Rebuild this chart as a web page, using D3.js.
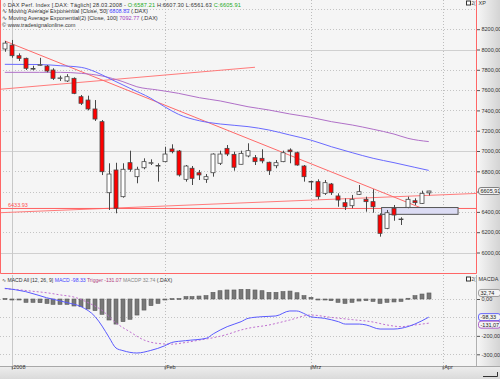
<!DOCTYPE html>
<html><head><meta charset="utf-8">
<script src="https://cdn.jsdelivr.net/npm/d3@7/dist/d3.min.js"></script>
<style>
body{margin:0;background:#fff}
svg{display:block}
text{font-family:"Liberation Sans",Arial,sans-serif}
</style>
</head><body>
<svg id="c" width="500" height="379"></svg>
<script>
// ---------- DATA ----------
const holidays = ["2007-12-31","2008-01-01","2008-03-21","2008-03-24"];
const startDay = "2007-12-28", endDay = "2008-04-08";

const opens  = [8005,8044,7939,7913,7808,7845,7837,7798,7716,7690,7716,7535,7502,7414,7289,6589,6813,6550,6885,6747,6835,6880,6852,6895,7020,7000,6721,6830,6786,6721,6786,6879,7026,6967,6869,6951,6934,6928,6889,6855,6895,7010,6983,6852,6698,6698,6583,6675,6557,6491,6461,6573,6524,6501,6369,6238,6436,6330,6445,6510,6484,6587.21];
const highs  = [8084,8094,7962,7920,7840,7918,7847,7815,7742,7757,7725,7552,7545,7502,7305,6879,6884,6879,7003,6845,6928,6918,6879,7042,7066,7010,6862,6852,6813,6773,6977,7003,7059,6993,7003,7076,6960,7017,6895,6911,7003,7026,6993,6862,6705,6721,6714,6685,6583,6534,6567,6665,6550,6623,6386,6419,6468,6347,6550,6534,6609,6607.30];
const lows   = [7978,7919,7887,7798,7795,7840,7775,7700,7690,7680,7560,7453,7400,7296,6763,6419,6386,6540,6796,6682,6820,6862,6698,6890,6977,6748,6698,6665,6714,6686,6747,6862,6950,6806,6869,6938,6862,6879,6764,6830,6890,6879,6855,6698,6615,6524,6567,6567,6451,6419,6436,6567,6402,6392,6156,6230,6313,6271,6436,6468,6478,6561.63];
const closes = [8063,7939,7913,7815,7812,7850,7788,7716,7720,7732,7568,7470,7414,7315,6796,6773,6436,6820,6820,6820,6895,6885,6857,6970,6993,6764,6852,6731,6764,6747,6970,6970,6970,6840,6977,7003,6895,6902,6806,6885,6983,6993,6862,6747,6700,6550,6688,6589,6517,6451,6524,6599,6501,6451,6189,6392,6369,6330,6524,6491,6583,6605.91];

// EMA readings: [trading-day index, value]
const ema50  = [[0,7854],[5,7852],[8,7840],[11,7824],[13,7781],[15,7716],[18,7618],[21,7520],[23,7436],[25,7361],[28,7298],[31,7266],[35,7240],[38,7207],[41,7158],[44,7108],[47,7042],[50,6983],[53,6928],[56,6885],[59,6839],[61,6808.83]];
const ema100 = [[0,7775],[5,7775],[8,7775],[11,7765],[14,7739],[17,7683],[19,7633],[22,7601],[25,7568],[28,7525],[31,7493],[35,7436],[38,7404],[41,7365],[44,7332],[47,7289],[50,7256],[53,7214],[56,7167],[58,7125],[61,7092.77]];

// MACD readings
const macdLine = [[0,58],[3,40],[6,7],[9,-20],[11,-42],[13,-96],[14,-147],[15,-208],[16,-266],[17,-280],[19,-293],[21,-279],[23,-254],[24,-236],[26,-226],[29,-213],[30,-189],[32,-150],[34,-123],[35,-105],[37,-96],[39,-92],[41,-65],[42,-65],[43,-78],[44,-96],[46,-105],[48,-123],[49,-136],[51,-136],[52,-141],[54,-163],[56,-163],[57,-159],[59,-136],[61,-98.33]];
const triggerLine = [[0,56],[2,50],[4,42],[6,34],[8,22],[10,10],[12,-20],[14,-62],[16,-130],[18,-178],[20,-222],[22,-241],[24,-245],[26,-236],[28,-223],[30,-210],[32,-192],[34,-168],[35,-159],[38,-141],[41,-114],[44,-87],[47,-100],[50,-112],[53,-125],[55,-141],[57,-150],[59,-141],[61,-131.07]];
const macdHist = [3,-2,-1,-18,-18,-20,-24,-29,-29,-29,-38,-42,-54,-63,-83,-114,-136,-123,-110,-87,-60,-36,-24,-3,2,3,13,13,16,18,36,45,49,49,52,52,49,45,36,36,40,43,34,18,9,-2,-5,-9,-18,-24,-18,-11,-9,-13,-24,-18,-16,-13,4,18,27,32.74];

// drawn objects
const trendDown = [["2007-12-28",8084],["2008-03-28",6409]];
const trendUpper = [["2007-12-28",7612],["2008-02-20",7825]];
const trendLower = [["2007-12-28",6394],["2008-03-28",6563]];
const levelValue = 6433.93;
const zoneBox = {from:"2008-03-17", to:"2008-04-03", low:6376, high:6443};

const yTicks = [6000,6200,6400,6600,6800,7000,7200,7400,7600,7800,8000,8200];
const yGridExtra = [8400];
const yMajor = [6000,7000,8000];
const macdTicks = [0,-200,-300];
const macdGrid = [0,-100,-200,-300];
const monthTicks = [["2008-01-02","2008"],["2008-02-01","Feb"],["2008-03-03","Mrz"],["2008-04-01","Apr"]];

// ---------- BUILD ----------
const fmtD = d3.timeFormat("%Y-%m-%d"), parseD = d3.timeParse("%Y-%m-%d");
const dates = [];
for (let d = parseD(startDay); d <= parseD(endDay); d = d3.timeDay.offset(d,1)) {
  const wd = d.getDay(), s = fmtD(d);
  if (wd>0 && wd<6 && !holidays.includes(s)) dates.push(s);
}
const bars = closes.map((c,i)=>({date:dates[i],o:opens[i],h:highs[i],l:lows[i],c:c,hist:macdHist[i]}));

const svg = d3.select("#c");
const PR = 476, MT = 0, MB = 274, ST = 275, SB = 366;
const x = d3.scalePoint().domain(dates).range([4.8, 4.8 + 6.95*(dates.length-1)]);
const y = d3.scaleLinear().domain([6000,8000]).range([252.5,49.5]);
const ym = d3.scaleLinear().domain([-300,0]).range([354.3,299]);

const defs = svg.append("defs");
const g1 = defs.append("linearGradient").attr("id","axg").attr("x1","0").attr("x2","1");
g1.append("stop").attr("offset","0").attr("stop-color","#f6f6f6");
g1.append("stop").attr("offset","1").attr("stop-color","#d4d4d4");
const g2 = defs.append("linearGradient").attr("id","xg").attr("x1","0").attr("x2","0").attr("y1","0").attr("y2","1");
g2.append("stop").attr("offset","0").attr("stop-color","#eeeeee");
g2.append("stop").attr("offset","1").attr("stop-color","#dadada");
defs.append("clipPath").attr("id","cm").append("rect").attr("x",0).attr("y",MT).attr("width",PR).attr("height",MB-MT);
defs.append("clipPath").attr("id","cs").append("rect").attr("x",0).attr("y",ST).attr("width",PR).attr("height",SB-ST);

// backgrounds
svg.append("rect").attr("width",500).attr("height",379).attr("fill","#f5f5f5");
svg.append("rect").attr("x",PR+1).attr("y",0).attr("width",500-PR-1).attr("height",SB).attr("fill","url(#axg)");
svg.append("rect").attr("x",0).attr("y",SB).attr("width",500).attr("height",379-SB).attr("fill","url(#xg)");
svg.append("line").attr("x1",0).attr("x2",500).attr("y1",SB+0.5).attr("y2",SB+0.5).attr("stroke","#a8a8a8");

// ---------- MAIN PANEL ----------
const main = svg.append("g").attr("clip-path","url(#cm)");
main.selectAll(".hg").data(yTicks.concat(yGridExtra)).enter().append("line")
  .attr("x1",0).attr("x2",PR).attr("y1",d=>Math.round(y(d))+0.5).attr("y2",d=>Math.round(y(d))+0.5)
  .attr("stroke",d=>yMajor.includes(d)?"#d0d0d0":"#c4c4c4")
  .attr("stroke-dasharray",d=>yMajor.includes(d)?null:"1,2");
function vgrid(g,top,bot){
  g.selectAll(null).data(monthTicks).enter().append("line")
    .attr("x1",d=>Math.round(x(d[0]))+0.5).attr("x2",d=>Math.round(x(d[0]))+0.5)
    .attr("y1",top).attr("y2",bot)
    .attr("stroke",(d,i)=>i===0?"#c8c8c8":"#bdbdbd")
    .attr("stroke-dasharray",(d,i)=>i===0?null:"1,2");
}
vgrid(main,MT,MB);

function tline(g,pts,extL,extR,color){
  const x1=x(pts[0][0]), y1=y(pts[0][1]), x2=x(pts[1][0]), y2=y(pts[1][1]);
  const s=(y2-y1)/(x2-x1);
  const xa = extL?0:x1, xb = extR?PR:x2;
  g.append("line").attr("x1",xa).attr("y1",y1+(xa-x1)*s).attr("x2",xb).attr("y2",y1+(xb-x1)*s)
    .attr("stroke",color).attr("stroke-width",1);
}
tline(main,trendUpper,true,false,"#ff7a7a");
tline(main,trendLower,true,true,"#ff7a7a");
tline(main,trendDown,false,false,"#ff6a6a");
main.append("line").attr("x1",0).attr("x2",PR).attr("y1",y(levelValue)).attr("y2",y(levelValue))
  .attr("stroke","#ff6060").attr("stroke-width",1);
main.append("text").attr("x",8).attr("y",y(levelValue)-1.5).attr("font-size",5.5).attr("fill","#ff5050")
  .text(levelValue.toFixed(2));

main.append("rect").attr("x",x(zoneBox.from)+1.5).attr("y",y(zoneBox.high))
  .attr("width",x(zoneBox.to)-x(zoneBox.from)).attr("height",y(zoneBox.low)-y(zoneBox.high))
  .attr("fill","#dcdcf4").attr("stroke","#555").attr("stroke-width",1);

const lineGen = d3.line().x(d=>x(dates[d[0]])).y(d=>y(d[1])).curve(d3.curveMonotoneX);
main.append("path").attr("d",lineGen(ema100)).attr("fill","none").attr("stroke","#b070c8").attr("stroke-width",1);
main.append("path").attr("d",lineGen(ema50)).attr("fill","none").attr("stroke","#6a6aff").attr("stroke-width",1);

const cw = 5;
const cg = main.selectAll(".cd").data(bars).enter().append("g");
cg.append("line").attr("x1",d=>Math.round(x(d.date))+0.5).attr("x2",d=>Math.round(x(d.date))+0.5)
  .attr("y1",d=>y(d.h)).attr("y2",d=>y(d.l)).attr("stroke","#484848");
cg.append("rect").attr("x",d=>Math.round(x(d.date))-2)
  .attr("y",d=>y(Math.max(d.o,d.c)))
  .attr("width",cw-1).attr("height",d=>Math.max(0.6,Math.abs(y(d.o)-y(d.c))))
  .attr("fill",(d,i)=>d.c>=d.o?(i===bars.length-1?"#e0e0e0":"#ffffff"):"#ff0000")
  .attr("stroke","#484848").attr("stroke-width",0.8);

// main border (red): left, right, bottom
svg.append("path").attr("d",`M0.5,0V${MB-0.5}H${PR+0.5}V0`)
  .attr("fill","none").attr("stroke","#ff6666").attr("stroke-width",1);

const yAx = svg.append("g").attr("transform",`translate(${PR+1},0)`)
  .call(d3.axisRight(y).tickValues(yTicks).tickSize(3).tickPadding(1.5).tickFormat(d=>d.toFixed(2).replace(".",",")));
yAx.select(".domain").remove();
yAx.selectAll("line").attr("stroke","#555");
yAx.selectAll("text").attr("font-size",5.5).attr("fill","#333").attr("font-family","Liberation Sans, Arial");

function valBox(v,yy,color,txt){
  const gb = svg.append("g");
  gb.append("rect").attr("x",PR+2.5).attr("y",yy-3.5).attr("width",22).attr("height",7).attr("rx",2.5)
    .attr("fill","#f4f4f4").attr("stroke",color).attr("stroke-width",0.8);
  gb.append("text").attr("x",PR+4.5).attr("y",yy+2).attr("font-size",5.5).attr("fill","#222").text(txt);
}
valBox(closes[closes.length-1],y(closes[closes.length-1]),"#666",closes[closes.length-1].toFixed(2).replace(".",","));

const hdr = svg.append("g").attr("font-size",5.6).attr("fill","#333");
const l1 = hdr.append("text").attr("x",3).attr("y",6.5).attr("letter-spacing",0.15);
l1.append("tspan").attr("fill","#666").text("◊ ");
l1.append("tspan").text("DAX Perf. Index [.DAX: Täglich] 28.03.2008 - ");
l1.append("tspan").attr("fill","#22aa22").text("O:"+opens[opens.length-1].toFixed(2));
l1.append("tspan").text(" H:"+highs[highs.length-1].toFixed(2)+" L:"+lows[lows.length-1].toFixed(2)+" ");
l1.append("tspan").attr("fill","#22aa22").text("C:"+closes[closes.length-1].toFixed(2));
const l2 = hdr.append("text").attr("x",2).attr("y",13.3);
l2.append("tspan").text("∿ Moving Average Exponential [Close, 50] ");
l2.append("tspan").attr("fill","#4444ff").text(ema50[ema50.length-1][1].toFixed(2));
l2.append("tspan").text(" (.DAX)");
const l3 = hdr.append("text").attr("x",2).attr("y",20);
l3.append("tspan").text("∿ Moving Average Exponential(2) [Close, 100] ");
l3.append("tspan").attr("fill","#a040c0").text(ema100[ema100.length-1][1].toFixed(2));
l3.append("tspan").text(" (.DAX)");
hdr.append("text").attr("x",2).attr("y",27).text("© www.tradesignalonline.com");

function icons(yy,label){
  svg.append("rect").attr("x",466.5).attr("y",yy-3).attr("width",4).attr("height",4).attr("fill","#fff").attr("stroke","#333").attr("stroke-width",1);
  svg.append("text").attr("x",471.5).attr("y",yy+1).attr("font-size",4.5).attr("fill","#333").text("2(");
  svg.append("text").attr("x",478.5).attr("y",yy+1.3).attr("font-size",5.5).attr("fill","#333").text(label);
}
icons(4,"XP");

// ---------- MACD PANEL ----------
const sub = svg.append("g").attr("clip-path","url(#cs)");
sub.selectAll(null).data(macdGrid).enter().append("line")
  .attr("x1",0).attr("x2",PR).attr("y1",d=>Math.round(ym(d))+0.5).attr("y2",d=>Math.round(ym(d))+0.5)
  .attr("stroke","#c4c4c4").attr("stroke-dasharray","1,2");
vgrid(sub,ST,SB);
sub.selectAll(".hb").data(bars).enter().append("rect")
  .attr("x",d=>Math.round(x(d.date))-2)
  .attr("y",d=>Math.min(ym(0),ym(d.hist)))
  .attr("width",cw-1).attr("height",d=>Math.max(1,Math.abs(ym(d.hist)-ym(0))))
  .attr("fill","#787878").attr("stroke","#5a5a5a").attr("stroke-width",0.6);
const mGen = d3.line().x(d=>x(dates[d[0]])).y(d=>ym(d[1])).curve(d3.curveMonotoneX);
sub.append("path").attr("d",mGen(triggerLine)).attr("fill","none").attr("stroke","#c070d0").attr("stroke-width",1).attr("stroke-dasharray","2,2");
sub.append("path").attr("d",mGen(macdLine)).attr("fill","none").attr("stroke","#5a5aff").attr("stroke-width",1);
svg.append("line").attr("x1",PR+0.5).attr("x2",PR+0.5).attr("y1",ST).attr("y2",SB).attr("stroke","#b0b0b0");

const mAx = svg.append("g").attr("transform",`translate(${PR+1},0)`)
  .call(d3.axisRight(ym).tickValues(macdTicks).tickSize(3).tickPadding(1.5).tickFormat(d=>d.toFixed(2).replace(".",",")));
mAx.select(".domain").remove();
mAx.selectAll("line").attr("stroke","#555");
mAx.selectAll("text").attr("font-size",5.5).attr("fill","#333").attr("font-family","Liberation Sans, Arial");
const histLast = macdHist[macdHist.length-1], macdLast = macdLine[macdLine.length-1][1], trigLast = triggerLine[triggerLine.length-1][1];
valBox(histLast,ym(histLast),"#888",histLast.toFixed(2).replace(".",","));
valBox(macdLast,ym(macdLast),"#4444ff",macdLast.toFixed(2).replace(".",","));
valBox(trigLast,ym(trigLast)+1.5,"#a040c0",trigLast.toFixed(2).replace(".",","));

const mh = svg.append("text").attr("x",2).attr("y",281.8).attr("font-size",5.1).attr("fill","#333");
mh.append("tspan").text("∿ MACD All [12, 26, 9] ");
mh.append("tspan").attr("fill","#4444ff").text("MACD "+macdLast.toFixed(2));
mh.append("tspan").attr("fill","#b04080").text(" Trigger "+trigLast.toFixed(2));
mh.append("tspan").attr("fill","#888").text(" MACDP "+histLast.toFixed(2));
mh.append("tspan").text(" (.DAX)");
icons(280,"MACDA");

// ---------- X AXIS ----------
const xAx = svg.append("g").attr("transform",`translate(0,${SB+0.5})`)
  .call(d3.axisBottom(x).tickValues(monthTicks.map(d=>d[0])).tickSize(3).tickPadding(1)
    .tickFormat(d=>monthTicks.find(m=>m[0]===d)[1]));
xAx.select(".domain").remove();
xAx.selectAll("line").attr("stroke","#555");
xAx.selectAll("text").attr("font-size",5.5).attr("fill","#333").attr("text-anchor","start").attr("dx",1).attr("dy",-1.5)
  .attr("font-family","Liberation Sans, Arial");
svg.append("path").attr("d","M483,376.5H497.5V372").attr("fill","none").attr("stroke","#333").attr("stroke-width",1);
</script>
</body></html>
